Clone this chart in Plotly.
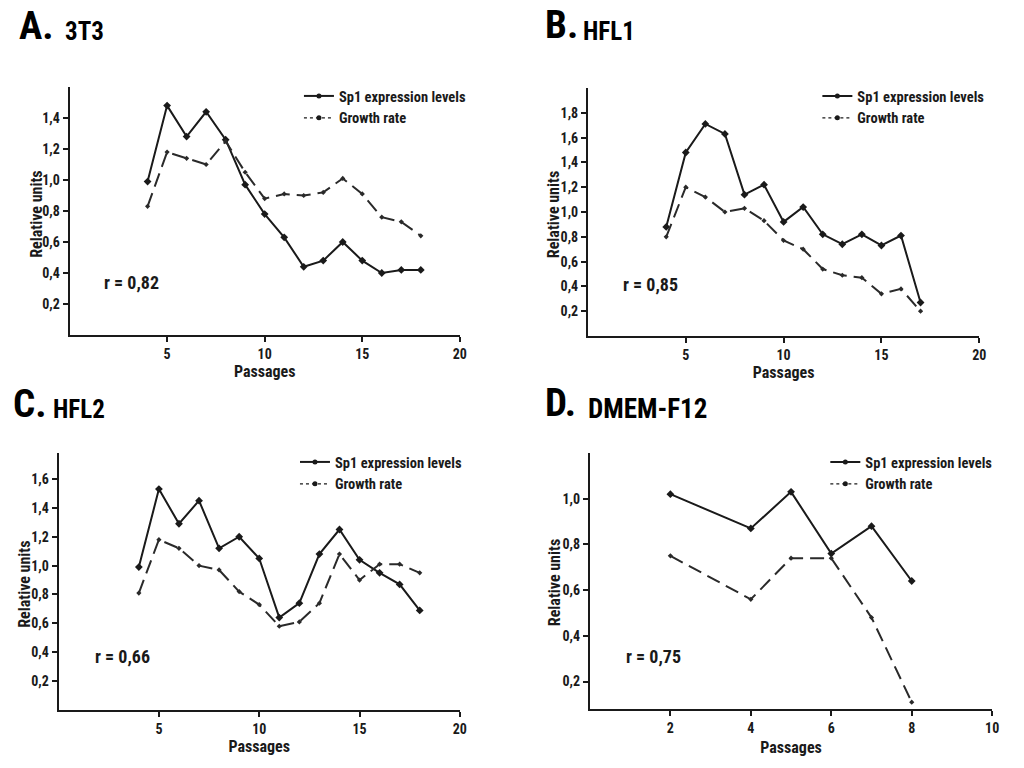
import plotly.graph_objects as go

# ---------------- data ----------------
passages_A = [4, 5, 6, 7, 8, 9, 10, 11, 12, 13, 14, 15, 16, 17, 18]
sp1_A = [0.99, 1.48, 1.28, 1.44, 1.26, 0.97, 0.78, 0.63, 0.44, 0.48, 0.60, 0.48, 0.40, 0.42, 0.42]
growth_A = [0.83, 1.18, 1.14, 1.10, 1.25, 1.05, 0.88, 0.91, 0.90, 0.92, 1.01, 0.91, 0.76, 0.73, 0.64]

passages_B = [4, 5, 6, 7, 8, 9, 10, 11, 12, 13, 14, 15, 16, 17]
sp1_B = [0.88, 1.48, 1.71, 1.63, 1.14, 1.22, 0.92, 1.04, 0.82, 0.74, 0.82, 0.73, 0.81, 0.27]
growth_B = [0.80, 1.20, 1.12, 1.00, 1.03, 0.93, 0.77, 0.70, 0.54, 0.49, 0.47, 0.34, 0.38, 0.20]

passages_C = [4, 5, 6, 7, 8, 9, 10, 11, 12, 13, 14, 15, 16, 17, 18]
sp1_C = [0.99, 1.53, 1.29, 1.45, 1.12, 1.20, 1.05, 0.64, 0.74, 1.08, 1.25, 1.04, 0.95, 0.87, 0.69]
growth_C = [0.81, 1.18, 1.12, 1.00, 0.97, 0.82, 0.73, 0.58, 0.61, 0.74, 1.08, 0.90, 1.01, 1.01, 0.95]

passages_D = [2, 4, 5, 6, 7, 8]
sp1_D = [1.02, 0.87, 1.03, 0.76, 0.88, 0.64]
growth_D = [0.75, 0.56, 0.74, 0.74, 0.48, 0.11]

panel_letters = ["A.", "B.", "C.", "D."]
panel_names = ["3T3", "HFL1", "HFL2", "DMEM-F12"]
r_texts = ["r = 0,82", "r = 0,85", "r = 0,66", "r = 0,75"]
series_names = ["Sp1 expression levels", "Growth rate"]
x_title = "Passages"
y_title = "Relative units"

yticks_A = [0.2, 0.4, 0.6, 0.8, 1.0, 1.2, 1.4]
yticks_B = [0.2, 0.4, 0.6, 0.8, 1.0, 1.2, 1.4, 1.6, 1.8]
yticks_C = [0.2, 0.4, 0.6, 0.8, 1.0, 1.2, 1.4, 1.6]
yticks_D = [0.2, 0.4, 0.6, 0.8, 1.0]
xticks_ABC = [5, 10, 15, 20]
xticks_D = [2, 4, 6, 8, 10]

# ---------------- styling ----------------
FONT = "Roboto Condensed, Liberation Sans Narrow, Arial Narrow, Liberation Sans, Arial, sans-serif"
INK = "#1a1a1a"
W, H = 1024, 768


def px_x(v):
    return v / W


def px_y(v):
    return 1 - v / H


panels = [
    dict(px=passages_A, sp=sp1_A, gr=growth_A, yt=yticks_A, xt=xticks_ABC, xr=[0, 20], yr=[0, 1.6],
         xd=[70, 463], yd=[87, 335], leg=(301, 80), r=(132, 283),
         t1=(17, 26), t2=(63, 31), ns=25, so=2, yl=(37, 214)),
    dict(px=passages_B, sp=sp1_B, gr=growth_B, yt=yticks_B, xt=xticks_ABC, xr=[0, 20], yr=[0, 2.0],
         xd=[592, 986], yd=[88, 336], leg=(823, 80), r=(655, 284),
         t1=(547, 25), t2=(585, 31), ns=25, so=2, yl=(557, 215)),
    dict(px=passages_C, sp=sp1_C, gr=growth_C, yt=yticks_C, xt=xticks_ABC, xr=[0, 20], yr=[0, 1.78],
         xd=[59, 463], yd=[453, 710], leg=(297, 446), r=(123, 656),
         t1=(11, 404), t2=(51, 409), ns=25, so=3, yl=(24, 584)),
    dict(px=passages_D, sp=sp1_D, gr=growth_D, yt=yticks_D, xt=xticks_D, xr=[0, 10], yr=[0.08, 1.2],
         xd=[594, 999], yd=[453, 709], leg=(831, 446), r=(658, 656),
         t1=(547, 403), t2=(590, 409), ns=27, so=7, yl=(558, 583)),
]

fig = go.Figure()
layout = dict(
    width=W, height=H, margin=dict(l=0, r=0, t=0, b=0),
    paper_bgcolor="white", plot_bgcolor="white", showlegend=True,
    font=dict(family=FONT, color=INK),
)
annotations = []

for i, p in enumerate(panels):
    n = i + 1
    xa = "x" if n == 1 else f"x{n}"
    ya = "y" if n == 1 else f"y{n}"
    lg = "legend" if n == 1 else f"legend{n}"

    fig.add_trace(go.Scatter(
        x=p["px"], y=p["sp"], xaxis=xa, yaxis=ya, mode="lines+markers",
        line=dict(color=INK, width=2), marker=dict(symbol="diamond", size=6, color=INK),
        showlegend=False, hoverinfo="skip"))
    fig.add_trace(go.Scatter(
        x=p["px"], y=p["gr"], xaxis=xa, yaxis=ya, mode="lines+markers",
        line=dict(color="#2a2a2a", width=2, dash="14px,7px"),
        marker=dict(symbol="diamond", size=4, color="#2a2a2a"),
        showlegend=False, hoverinfo="skip"))
    # legend entries
    fig.add_trace(go.Scatter(
        x=[None], y=[None], xaxis=xa, yaxis=ya, mode="lines+markers", name=series_names[0],
        line=dict(color=INK, width=2), marker=dict(symbol="circle", size=5, color=INK),
        legend=lg, showlegend=True))
    fig.add_trace(go.Scatter(
        x=[None], y=[None], xaxis=xa, yaxis=ya, mode="lines+markers", name=series_names[1],
        line=dict(color=INK, width=1.2, dash="dot"), marker=dict(symbol="circle", size=5, color=INK),
        legend=lg, showlegend=True))

    axkey_x = "xaxis" if n == 1 else f"xaxis{n}"
    axkey_y = "yaxis" if n == 1 else f"yaxis{n}"
    layout[axkey_x] = dict(
        domain=[px_x(p["xd"][0]), px_x(p["xd"][1])], range=p["xr"], anchor=ya,
        showline=True, linecolor=INK, linewidth=2, showgrid=False, zeroline=False,
        ticks="outside", ticklen=5, tickwidth=2, tickcolor=INK,
        tickvals=p["xt"], ticktext=[str(v) for v in p["xt"]],
        tickfont=dict(family=FONT, size=14, color=INK, weight="bold"),
        title=dict(text=x_title, font=dict(family=FONT, size=16, color=INK, weight="bold"), standoff=p["so"]),
        fixedrange=True)
    layout[axkey_y] = dict(
        domain=[px_y(p["yd"][1]), px_y(p["yd"][0])], range=p["yr"], anchor=xa,
        showline=True, linecolor=INK, linewidth=2, showgrid=False, zeroline=False,
        ticks="outside", ticklen=5, tickwidth=2, tickcolor=INK,
        tickvals=p["yt"], ticktext=[f"{v:.1f}".replace(".", ",") for v in p["yt"]],
        tickfont=dict(family=FONT, size=14, color=INK, weight="bold"),
        fixedrange=True)
    layout[lg] = dict(
        x=px_x(p["leg"][0]), y=px_y(p["leg"][1]), xanchor="left", yanchor="top",
        bgcolor="rgba(0,0,0,0)", borderwidth=0, itemwidth=30,
        font=dict(family=FONT, size=14.5, color=INK, weight="bold"), tracegroupgap=0)

    annotations.append(dict(
        text=y_title, x=px_x(p["yl"][0]), y=px_y(p["yl"][1]), xref="paper", yref="paper",
        xanchor="center", yanchor="middle", textangle=-90, showarrow=False,
        font=dict(family=FONT, size=16, color=INK, weight="bold")))
    annotations.append(dict(
        text=r_texts[i], x=px_x(p["r"][0]), y=px_y(p["r"][1]), xref="paper", yref="paper",
        xanchor="center", yanchor="middle", showarrow=False,
        font=dict(family=FONT, size=18, color=INK, weight="bold")))
    annotations.append(dict(
        text=panel_letters[i], x=px_x(p["t1"][0]), y=px_y(p["t1"][1]), xref="paper", yref="paper",
        xanchor="left", yanchor="middle", showarrow=False,
        font=dict(family=FONT, size=39, color="#000000", weight="bold")))
    annotations.append(dict(
        text=panel_names[i], x=px_x(p["t2"][0]), y=px_y(p["t2"][1]), xref="paper", yref="paper",
        xanchor="left", yanchor="middle", showarrow=False,
        font=dict(family=FONT, size=p["ns"], color="#000000", weight="bold")))

layout["annotations"] = annotations
fig.update_layout(**layout)
# remove the default 8px page margin so the 1024x768 figure fills the window exactly
fig.write_html("out.html", config={"displayModeBar": False},
               post_script="document.body.style.margin='0';")
